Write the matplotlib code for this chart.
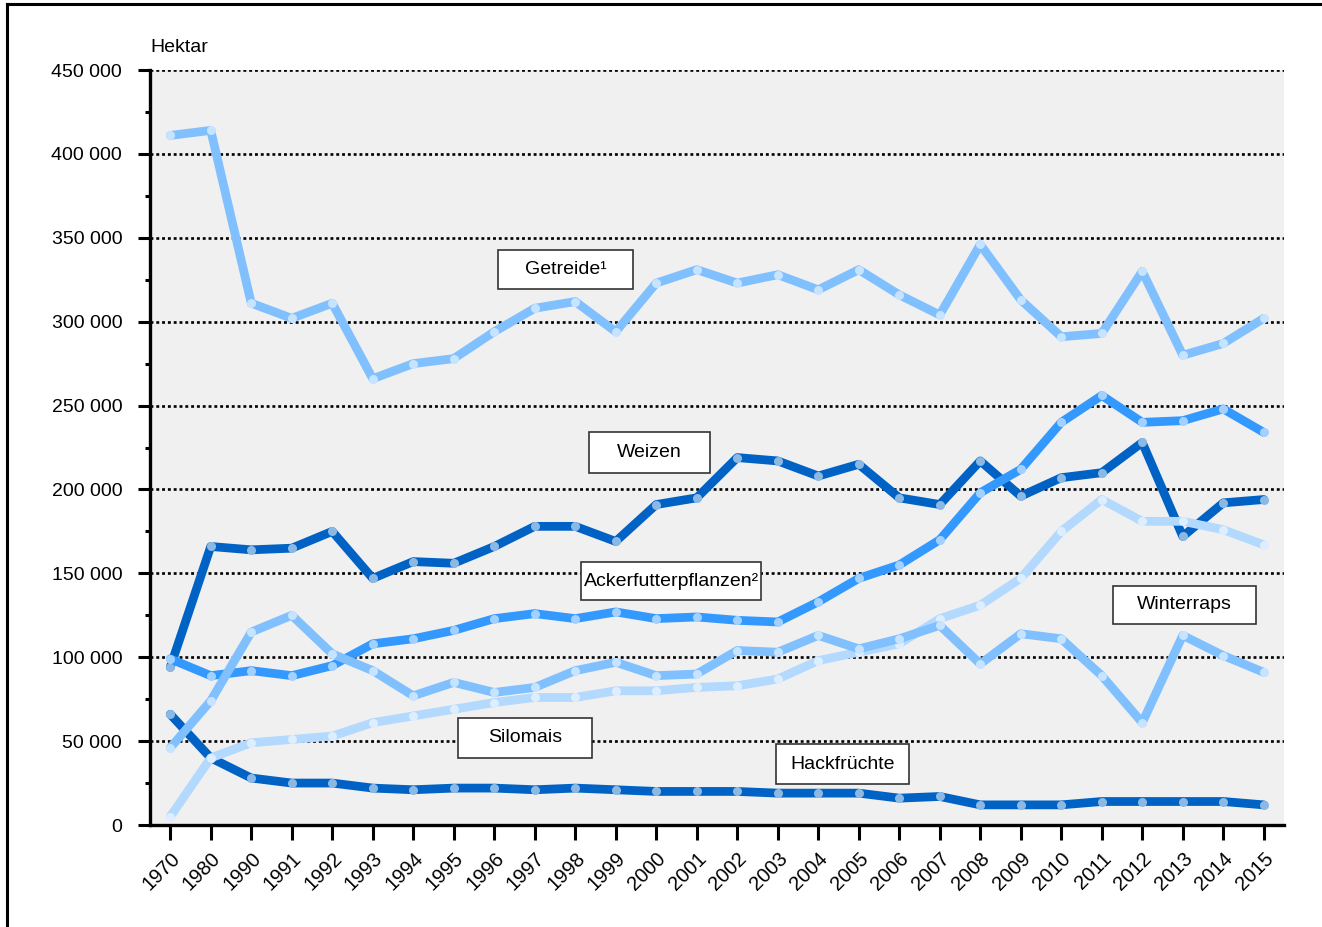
import matplotlib.pyplot as plt
from matplotlib.lines import Line2D
from matplotlib.patches import Rectangle
from matplotlib.colors import to_rgb
from matplotlib.ticker import MultipleLocator, FuncFormatter

plt.rcParams["font.family"] = ["Liberation Sans", "DejaVu Sans"]

years = ["1970", "1980", "1990", "1991", "1992", "1993", "1994", "1995", "1996",
         "1997", "1998", "1999", "2000", "2001", "2002", "2003", "2004", "2005",
         "2006", "2007", "2008", "2009", "2010", "2011", "2012", "2013", "2014", "2015"]

getreide = [411, 414, 311, 302, 311, 266, 275, 278, 294, 308, 312, 294, 323, 331,
            323, 328, 319, 331, 316, 304, 346, 313, 291, 293, 330, 280, 287, 302]
weizen = [94, 166, 164, 165, 175, 147, 157, 156, 166, 178, 178, 169, 191, 195,
          219, 217, 208, 215, 195, 191, 217, 196, 207, 210, 228, 172, 192, 194]
ackerfutter = [99, 89, 92, 89, 95, 108, 111, 116, 123, 126, 123, 127, 123, 124,
               122, 121, 133, 147, 155, 170, 198, 212, 240, 256, 240, 241, 248, 234]
winterraps = [46, 74, 115, 125, 102, 92, 77, 85, 79, 82, 92, 97, 89, 90,
              104, 103, 113, 105, 111, 119, 96, 114, 111, 89, 61, 113, 101, 91]
silomais = [5, 40, 49, 51, 53, 61, 65, 69, 73, 76, 76, 80, 80, 82,
            83, 87, 98, 103, 108, 123, 131, 147, 175, 194, 181, 181, 176, 167]
hackfruechte = [66, 40, 28, 25, 25, 22, 21, 22, 22, 21, 22, 21, 20, 20,
                20, 19, 19, 19, 16, 17, 12, 12, 12, 14, 14, 14, 14, 12]

# drawn bottom to top
series = [
    (weizen, "#0062c4"),
    (hackfruechte, "#0062c4"),
    (ackerfutter, "#3399ff"),
    (silomais, "#b3d9ff"),
    (winterraps, "#80c0ff"),
    (getreide, "#80c0ff"),
]

labels = [
    ("Getreide\u00b9", 0.307, 0.710, 0.119, 0.052),
    ("Weizen", 0.387, 0.466, 0.107, 0.055),
    ("Ackerfutterpflanzen\u00b2", 0.380, 0.298, 0.159, 0.050),
    ("Winterraps", 0.849, 0.266, 0.126, 0.051),
    ("Silomais", 0.272, 0.089, 0.118, 0.053),
    ("Hackfr\u00fcchte", 0.552, 0.054, 0.117, 0.053),
]


def lighter(c, f=0.55):
    r, g, b = to_rgb(c)
    return (r + (1 - r) * f, g + (1 - g) * f, b + (1 - b) * f)


fig = plt.figure(figsize=(13.22, 9.27), dpi=100)
ax = fig.add_axes([150 / 1322, 102 / 927, 1134 / 1322, 755 / 927])
ax.set_facecolor("#f0f0f0")

x = list(range(len(years)))
for values, color in series:
    ys = [v * 1000 for v in values]
    ax.plot(x, ys, color=color, lw=6.3, solid_joinstyle="round",
            solid_capstyle="round", zorder=3)
    ax.plot(x, ys, ls="none", marker="o", ms=6.5, mfc=lighter(color),
            mec="none", zorder=3)

ax.set_xlim(-0.5, len(years) - 0.5)
ax.set_ylim(0, 450000)
ax.set_xticks(x)
ax.set_xticklabels(years, rotation=45, ha="right", rotation_mode="anchor",
                   fontsize=14.5)
ax.yaxis.set_major_locator(MultipleLocator(50000))
ax.yaxis.set_minor_locator(MultipleLocator(25000))
ax.yaxis.set_major_formatter(
    FuncFormatter(lambda v, p: "0" if v == 0 else f"{int(v):,}".replace(",", " ")))
ax.tick_params(axis="y", which="major", length=9, width=2.2, labelsize=14, pad=11)
ax.tick_params(axis="y", which="minor", length=3.6, width=2.2)
ax.tick_params(axis="x", length=11, width=2.2, pad=6)

ax.grid(axis="y", which="major", color="black", lw=1.9, ls=(0, (1.1, 1.1)), zorder=1)
for s in ["top", "right"]:
    ax.spines[s].set_visible(False)
for s in ["left", "bottom"]:
    ax.spines[s].set_linewidth(2.4)
    ax.spines[s].set_zorder(5)

for text, lx, ly, w, h in labels:
    ax.add_patch(Rectangle((lx, ly), w, h, transform=ax.transAxes,
                           facecolor="white", edgecolor="#333333", lw=1.2, zorder=6))
    ax.text(lx + w / 2, ly + h / 2, text, transform=ax.transAxes, ha="center",
            va="center", fontsize=14, zorder=7)

fig.text(150 / 1322, 1 - 47 / 927, "Hektar", ha="left", va="center", fontsize=14)

# frame around the graphic (left and top edges visible)
fig.add_artist(Line2D([7 / 1322, 7 / 1322], [0, 1 - 4 / 927], color="black", lw=2.2,
                      transform=fig.transFigure))
fig.add_artist(Line2D([7 / 1322, 1], [1 - 4 / 927, 1 - 4 / 927], color="black", lw=2.2,
                      transform=fig.transFigure))

fig.savefig("out.png", dpi=100)
